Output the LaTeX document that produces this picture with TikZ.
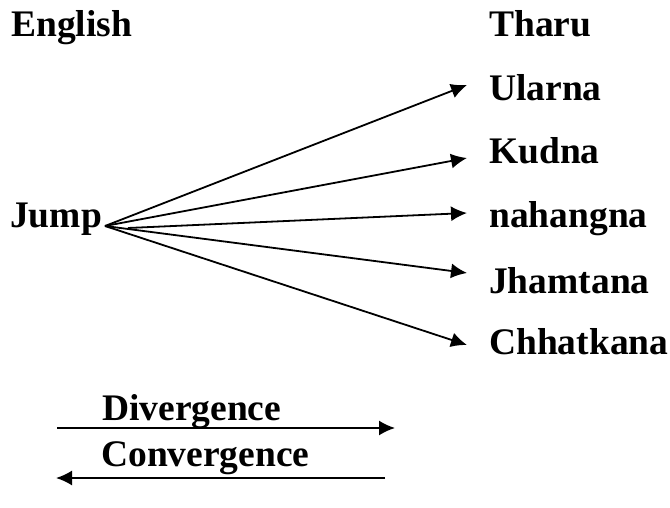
\documentclass[tikz,border=0pt]{standalone}
\usepackage{fontspec}
\setmainfont{Liberation Serif}
\usepackage{tikz}
\usetikzlibrary{arrows,arrows.meta}

\begin{document}
\begin{tikzpicture}[
  x=1pt,y=-1pt,
  wnode/.style={anchor=base west,inner sep=0pt,font=\fontsize{37.5}{42}\selectfont\bfseries},
  arr/.style={line width=1.8pt,-{Latex[length=16pt,width=15pt]}}
]
  \useasboundingbox (0,0) rectangle (670,508);

  % headings
  \node[wnode] (eng) at (11,37) {English};
  \node[wnode] (tha) at (489,37) {Tharu};

  % source word
  \node[wnode] (jump) at (10,228) {Jump};

  % target words
  \node[wnode] (w1) at (489,101) {Ularna};
  \node[wnode] (w2) at (489,164) {Kudna};
  \node[wnode] (w3) at (489,228) {nahangna};
  \node[wnode] (w4) at (489,293) {Jhamtana};
  \node[wnode] (w5) at (489,354) {Chhatkana};

  % fan ends
  \coordinate (hub) at (105,226);
  \coordinate (hub3) at (128,228);
  \coordinate (t1) at (467,85);
  \coordinate (t2) at (467,158);
  \coordinate (t3) at (467,213);
  \coordinate (t4) at (467,273);
  \coordinate (t5) at (467,345);

  % fan edges
  \draw[arr] (hub) -- (t1);
  \draw[arr] (hub) -- (t2);
  \draw[arr] (hub3) -- (t3);
  \draw[arr] (hub) -- (t4);
  \draw[arr] (hub) -- (t5);

  % legend
  \node[wnode] (div) at (102,420) {Divergence};
  \node[wnode] (con) at (101,466) {Convergence};
  \coordinate (d1) at (57,428);
  \coordinate (d2) at (395,428);
  \coordinate (c1) at (56,478);
  \coordinate (c2) at (385,478);
  \draw[arr] (d1) -- (d2);
  \draw[arr] (c2) -- (c1);

\end{tikzpicture}
\end{document}
